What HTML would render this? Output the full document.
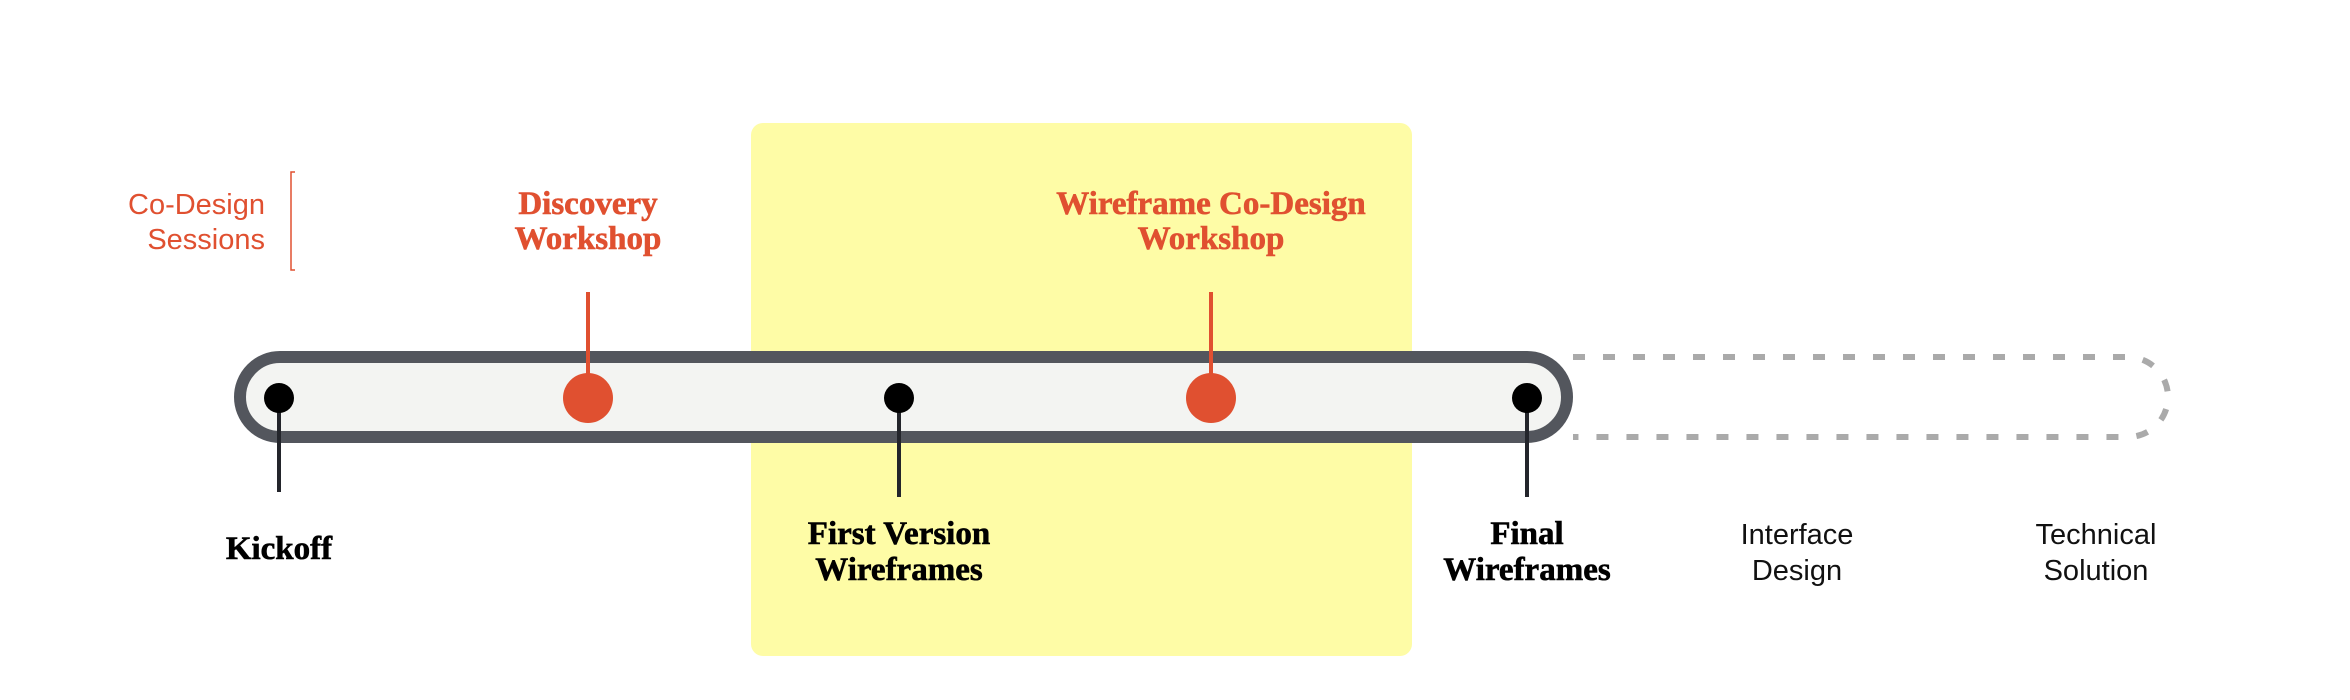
<!DOCTYPE html>
<html><head><meta charset="utf-8"><style>
html,body{margin:0;padding:0;background:#fff;}
svg{display:block;}
.b{font-family:"Liberation Serif",serif;font-weight:bold;font-size:33px;}
.l{font-family:"Liberation Sans",sans-serif;font-size:29px;}
</style></head><body>
<svg width="2350" height="700" viewBox="0 0 2350 700" xmlns="http://www.w3.org/2000/svg">
<rect x="751" y="123" width="661" height="533" rx="12" fill="#fefca6"/>
<path d="M1573 357 H2128 A40 40 0 0 1 2128 437 H1573" fill="none" stroke="#aaaaaa" stroke-width="6" stroke-dasharray="12 18"/>
<rect x="240" y="357" width="1327" height="80" rx="40" fill="#f3f4f2" stroke="#53565d" stroke-width="12"/>
<line x1="588" y1="292" x2="588" y2="380" stroke="#e05030" stroke-width="4"/>
<line x1="1211" y1="292" x2="1211" y2="380" stroke="#e05030" stroke-width="4"/>
<circle cx="588" cy="398" r="25" fill="#e05030"/>
<circle cx="1211" cy="398" r="25" fill="#e05030"/>
<line x1="279" y1="405" x2="279" y2="492" stroke="#23252b" stroke-width="4"/>
<line x1="899" y1="405" x2="899" y2="497" stroke="#23252b" stroke-width="4"/>
<line x1="1527" y1="405" x2="1527" y2="497" stroke="#23252b" stroke-width="4"/>
<circle cx="279" cy="398" r="15" fill="#000"/>
<circle cx="899" cy="398" r="15" fill="#000"/>
<circle cx="1527" cy="398" r="15" fill="#000"/>
<path d="M295 172 H291 V270 H295" fill="none" stroke="#e05030" stroke-width="1.5"/>
<g class="l" fill="#e05030" text-anchor="end"><text x="265" y="214">Co-Design</text><text x="265" y="249">Sessions</text></g>
<g class="b" fill="#e05030" stroke="#e05030" stroke-width="0.6" text-anchor="middle">
<text x="588" y="214">Discovery</text><text x="588" y="249">Workshop</text>
<text x="1211" y="214">Wireframe Co-Design</text><text x="1211" y="249">Workshop</text></g>
<g class="b" fill="#000" stroke="#000" stroke-width="0.6" text-anchor="middle">
<text x="279" y="559">Kickoff</text>
<text x="899" y="544">First Version</text><text x="899" y="580">Wireframes</text>
<text x="1527" y="544">Final</text><text x="1527" y="580">Wireframes</text></g>
<g class="l" fill="#111" text-anchor="middle">
<text x="1797" y="544">Interface</text><text x="1797" y="580">Design</text>
<text x="2096" y="544">Technical</text><text x="2096" y="580">Solution</text></g>
</svg>
</body></html>
